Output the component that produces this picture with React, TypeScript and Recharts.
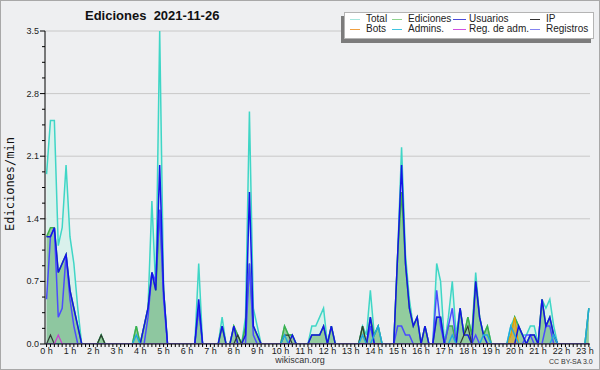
import { Area, CartesianGrid, ComposedChart, Line, XAxis, YAxis } from "recharts";

// 10-minute bins from 00:00, values in edits per minute
const TOTAL = [
  1.9, 2.5, 2.5, 1.1, 1.3, 2.0, 1.2, 0.9, 0.4, 0,
  0, 0, 0, 0, 0.1, 0, 0, 0, 0, 0,
  0, 0, 0, 0.2, 0, 0.2, 0.4, 1.6, 0.6, 3.5,
  0.6, 0, 0, 0, 0, 0, 0, 0, 0, 0.9,
  0, 0, 0, 0, 0, 0.3, 0, 0, 0.2, 0.1,
  0, 0.3, 2.6, 0.4, 0.2, 0, 0, 0, 0, 0,
  0, 0.2, 0.1, 0.1, 0, 0, 0, 0, 0.2, 0.2,
  0.3, 0.4, 0, 0.2, 0, 0, 0, 0, 0, 0,
  0, 0.2, 0.1, 0.6, 0.1, 0.2, 0, 0, 0, 0,
  1.0, 2.2, 1.0, 0.5, 0.2, 0.3, 0, 0.2, 0, 0,
  0.9, 0.7, 0, 0.3, 0.7, 0.1, 0.4, 0.1, 0.3, 0.1,
  0.8, 0.3, 0.1, 0.2, 0, 0, 0, 0, 0, 0.2,
  0.3, 0.2, 0.1, 0.1, 0.2, 0.2, 0, 0.5, 0.4, 0.5,
  0.2, 0, 0, 0, 0, 0, 0, 0, 0, 0.4,
];

const EDICIONES = [
  1.2, 1.3, 1.3, 0.8, 0.9, 1.0, 0.6, 0.4, 0.2, 0,
  0, 0, 0, 0, 0.1, 0, 0, 0, 0, 0,
  0, 0, 0, 0.2, 0, 0.2, 0.4, 0.8, 0.6, 1.5,
  0.6, 0, 0, 0, 0, 0, 0, 0, 0, 0.4,
  0, 0, 0, 0, 0, 0.2, 0, 0, 0.2, 0.1,
  0, 0.2, 0.9, 0.2, 0.1, 0, 0, 0, 0, 0,
  0, 0.2, 0.1, 0.1, 0, 0, 0, 0, 0.1, 0.1,
  0.1, 0.2, 0, 0.2, 0, 0, 0, 0, 0, 0,
  0, 0.2, 0, 0.3, 0.1, 0.2, 0, 0, 0, 0,
  1.0, 1.7, 0.9, 0.4, 0.2, 0.3, 0, 0.2, 0, 0,
  0.3, 0.3, 0, 0.2, 0.2, 0, 0.4, 0.1, 0.3, 0.1,
  0.7, 0.3, 0.1, 0.2, 0, 0, 0, 0, 0, 0.1,
  0.3, 0.2, 0.1, 0, 0.1, 0.1, 0, 0.5, 0.2, 0.3,
  0.1, 0, 0, 0, 0, 0, 0, 0, 0, 0.4,
];

const USUARIOS = [
  1.2, 1.2, 1.3, 0.8, 0.9, 1.0, 0.6, 0.4, 0.2, 0,
  0, 0, 0, 0, 0, 0, 0, 0, 0, 0,
  0, 0, 0, 0, 0, 0.2, 0.4, 0.8, 0.6, 2.0,
  0.6, 0, 0, 0, 0, 0, 0, 0, 0, 0.5,
  0, 0, 0, 0, 0, 0.2, 0, 0, 0.2, 0,
  0, 0.1, 1.7, 0.2, 0.1, 0, 0, 0, 0, 0,
  0, 0, 0, 0.1, 0, 0, 0, 0, 0.1, 0.1,
  0.1, 0.2, 0, 0.2, 0, 0, 0, 0, 0, 0,
  0, 0, 0, 0.3, 0, 0, 0, 0, 0, 0,
  1.0, 2.0, 0.9, 0.4, 0.2, 0.3, 0, 0.2, 0, 0,
  0.3, 0.3, 0, 0, 0, 0, 0.4, 0.1, 0.1, 0,
  0.7, 0.3, 0.1, 0, 0, 0, 0, 0, 0, 0,
  0, 0.2, 0.1, 0, 0.1, 0.1, 0, 0.5, 0.2, 0.3,
  0.1, 0, 0, 0, 0, 0, 0, 0, 0, 0,
];

const REGISTROS = [
  0.5, 1.2, 1.3, 0.3, 0.4, 1.0, 0.5, 0.2, 0, 0,
  0, 0, 0, 0, 0, 0, 0, 0, 0, 0,
  0, 0, 0, 0, 0, 0, 0.3, 0.8, 0.7, 1.5,
  0.5, 0, 0, 0, 0, 0, 0, 0, 0, 0.4,
  0, 0, 0, 0, 0, 0, 0, 0, 0, 0,
  0, 0, 0.9, 0.1, 0, 0, 0, 0, 0, 0,
  0, 0, 0, 0, 0, 0, 0, 0, 0, 0,
  0, 0, 0, 0, 0, 0, 0, 0, 0, 0,
  0, 0, 0, 0.2, 0, 0, 0, 0, 0, 0,
  0.2, 0.2, 0.1, 0.1, 0, 0, 0, 0, 0, 0,
  0.6, 0.2, 0, 0.2, 0.4, 0, 0, 0, 0, 0,
  0.1, 0, 0, 0, 0, 0, 0, 0, 0, 0,
  0, 0, 0, 0.1, 0.1, 0, 0, 0, 0.2, 0.2,
  0, 0, 0, 0, 0, 0, 0, 0, 0, 0,
];

const IP = [
  0, 0.1, 0, 0, 0, 0, 0, 0, 0, 0,
  0, 0, 0, 0, 0.1, 0, 0, 0, 0, 0,
  0, 0, 0, 0, 0, 0, 0, 0, 0, 0,
  0, 0, 0, 0, 0, 0, 0, 0, 0, 0,
  0, 0, 0, 0, 0, 0, 0, 0, 0, 0.1,
  0, 0, 0, 0, 0, 0, 0, 0, 0, 0,
  0, 0.1, 0.1, 0, 0, 0, 0, 0, 0, 0,
  0, 0, 0, 0, 0, 0, 0, 0, 0, 0,
  0, 0.2, 0, 0, 0, 0, 0, 0, 0, 0,
  0, 0, 0, 0, 0, 0, 0, 0, 0, 0,
  0, 0, 0, 0, 0, 0, 0, 0.1, 0.2, 0,
  0, 0, 0, 0, 0, 0, 0, 0, 0, 0,
  0, 0, 0, 0, 0, 0, 0, 0, 0, 0,
  0, 0, 0, 0, 0, 0, 0, 0, 0, 0,
];

const BOTS = [
  0, 0, 0, 0, 0, 0, 0, 0, 0, 0,
  0, 0, 0, 0, 0, 0, 0, 0, 0, 0,
  0, 0, 0, 0, 0, 0, 0, 0, 0, 0,
  0, 0, 0, 0, 0, 0, 0, 0, 0, 0,
  0, 0, 0, 0, 0, 0, 0, 0, 0, 0,
  0, 0, 0, 0, 0, 0, 0, 0, 0, 0,
  0, 0, 0, 0, 0, 0, 0, 0, 0, 0,
  0, 0, 0, 0, 0, 0, 0, 0, 0, 0,
  0, 0, 0, 0, 0, 0, 0, 0, 0, 0,
  0, 0, 0, 0, 0, 0, 0, 0, 0, 0,
  0, 0, 0, 0, 0, 0, 0, 0, 0, 0,
  0, 0, 0, 0, 0, 0, 0, 0, 0, 0.1,
  0.3, 0, 0, 0, 0, 0, 0, 0, 0, 0,
  0, 0, 0, 0, 0, 0, 0, 0, 0, 0,
];

const ADMINS = [
  0, 0, 0, 0, 0, 0, 0, 0, 0, 0,
  0, 0, 0, 0, 0, 0, 0, 0, 0, 0,
  0, 0, 0, 0.1, 0, 0, 0, 0, 0, 0,
  0, 0, 0, 0, 0, 0, 0, 0, 0, 0,
  0, 0, 0, 0, 0, 0, 0, 0, 0, 0,
  0, 0, 0, 0, 0, 0, 0, 0, 0, 0,
  0, 0.1, 0, 0, 0, 0, 0, 0, 0, 0,
  0, 0, 0, 0, 0, 0, 0, 0, 0, 0,
  0, 0.1, 0, 0, 0.1, 0.2, 0, 0, 0, 0,
  0, 0, 0, 0, 0, 0, 0, 0, 0, 0,
  0, 0, 0, 0, 0.1, 0, 0, 0, 0, 0,
  0, 0, 0.1, 0.1, 0, 0, 0, 0, 0, 0.2,
  0.1, 0, 0, 0, 0, 0, 0, 0, 0, 0,
  0.1, 0, 0, 0, 0, 0, 0, 0, 0, 0.4,
];

const REG_ADM = [
  0, 0, 0, 0.1, 0, 0, 0, 0, 0, 0,
  0, 0, 0, 0, 0, 0, 0, 0, 0, 0,
  0, 0, 0, 0, 0, 0, 0, 0, 0, 0,
  0, 0, 0, 0, 0, 0, 0, 0, 0, 0,
  0, 0, 0, 0, 0, 0, 0, 0, 0, 0,
  0, 0, 0, 0, 0, 0, 0, 0, 0, 0,
  0, 0, 0, 0, 0, 0, 0, 0, 0, 0,
  0, 0, 0, 0, 0, 0, 0, 0, 0, 0,
  0, 0, 0, 0, 0, 0, 0, 0, 0, 0,
  0, 0, 0, 0, 0, 0, 0, 0, 0, 0,
  0, 0, 0, 0, 0, 0, 0, 0, 0, 0,
  0, 0, 0, 0, 0, 0, 0, 0, 0, 0,
  0, 0, 0, 0, 0, 0, 0, 0, 0, 0,
  0, 0, 0, 0, 0, 0, 0, 0, 0, 0,
];

const HOUR_LABELS = [
  "0 h", "1 h", "2 h", "3 h", "4 h", "5 h", "6 h", "7 h", "8 h", "9 h", "10 h", "11 h",
  "12 h", "13 h", "14 h", "15 h", "16 h", "17 h", "18 h", "19 h", "20 h", "21 h", "22 h", "23 h",
];
const Y_LABELS = ["0.0", "0.7", "1.4", "2.1", "2.8", "3.5"];
const GRID_VALUES = [0.7, 1.4, 2.1, 2.8, 3.5];

const BIN_MIN = 10;
const Y_STEP = 0.175;
const X_TICKS = Array.from({ length: 140 }, (_, i) => i * BIN_MIN);
const Y_TICKS = Array.from({ length: 21 }, (_, k) => k * Y_STEP);

const data = TOTAL.map((v, i) => ({
  t: i * BIN_MIN,
  total: v,
  ediciones: EDICIONES[i],
  usuarios: USUARIOS[i],
  registros: REGISTROS[i],
  ip: IP[i],
  bots: BOTS[i],
  admins: ADMINS[i],
  regAdm: REG_ADM[i],
}));

const LEGEND = [
  { label: "Total", color: "#a6e6de", x: 350, row: 0 },
  { label: "Ediciones", color: "#8fd48f", x: 392, row: 0 },
  { label: "Usuarios", color: "#4a4ad8", x: 453, row: 0 },
  { label: "IP", color: "#333333", x: 530, row: 0 },
  { label: "Bots", color: "#f0a040", x: 350, row: 1 },
  { label: "Admins.", color: "#40c4e0", x: 392, row: 1 },
  { label: "Reg. de adm.", color: "#d050e0", x: 453, row: 1 },
  { label: "Registros", color: "#8484f0", x: 530, row: 1 },
];

const FONT = "'Liberation Sans', Arial, sans-serif";

function XTick({ x, y, payload }: any) {
  const m = payload.value as number;
  return (
    <g>
      <line x1={x} y1={y} x2={x} y2={y + 3} stroke="#000" />
      {m % 60 === 0 && (
        <text x={x} y={y + 10} textAnchor="middle" fontSize={9} fontFamily={FONT} fill="#222">
          {HOUR_LABELS[m / 60]}
        </text>
      )}
    </g>
  );
}

function YTick({ x, y, payload }: any) {
  const k = Math.round(payload.value / Y_STEP);
  const major = k % 4 === 0;
  return (
    <g>
      <line x1={x - (major ? 5 : 3)} y1={y} x2={x} y2={y} stroke="#000" />
      {major && (
        <text x={x - 6} y={y + 3} textAnchor="end" fontSize={9} fontFamily={FONT} fill="#222">
          {Y_LABELS[k / 4]}
        </text>
      )}
    </g>
  );
}

export default function App() {
  return (
    <div style={{ position: "relative", width: 600, height: 370, background: "#eeeff1", fontFamily: FONT }}>
      <style>{"body{margin:0}"}</style>
      <ComposedChart width={600} height={370} data={data} margin={{ top: 31, right: 10, bottom: 0, left: 5 }}>
        <CartesianGrid vertical={false} horizontalValues={GRID_VALUES} stroke="#c8c8c8" />
        <Area type="linear" dataKey="total" stroke="#3fd6c6" strokeWidth={1.5} fill="#d9f1ec" fillOpacity={1} dot={false} isAnimationActive={false} />
        <Area type="linear" dataKey="ediciones" stroke="#3fb04a" strokeWidth={1.5} fill="#92cc9e" fillOpacity={1} dot={false} isAnimationActive={false} />
        <Area type="linear" dataKey="registros" stroke="#4b4bff" strokeWidth={1.5} fill="#5a7ad0" fillOpacity={0.06} dot={false} isAnimationActive={false} />
        <Line type="linear" dataKey="usuarios" stroke="#1414e6" strokeWidth={1.5} dot={false} isAnimationActive={false} />
        <Line type="linear" dataKey="ip" stroke="#2f3b33" strokeWidth={1.2} dot={false} isAnimationActive={false} />
        <Area type="linear" dataKey="bots" stroke="#f0a000" strokeWidth={1.2} fill="#f0a020" fillOpacity={0.6} dot={false} isAnimationActive={false} />
        <Line type="linear" dataKey="admins" stroke="#20a8e0" strokeWidth={1.5} dot={false} isAnimationActive={false} />
        <Line type="linear" dataKey="regAdm" stroke="#c840d0" strokeWidth={1.2} dot={false} isAnimationActive={false} />
        <XAxis
          type="number"
          dataKey="t"
          domain={[-4, 1393]}
          allowDataOverflow
          ticks={X_TICKS}
          interval={0}
          height={26}
          tickLine={false}
          tickSize={0}
          tickMargin={0}
          axisLine={{ stroke: "#000" }}
          tick={<XTick />}
        />
        <YAxis
          type="number"
          domain={[0, 3.5]}
          allowDataOverflow
          ticks={Y_TICKS}
          interval={0}
          width={40}
          tickLine={false}
          tickSize={0}
          tickMargin={0}
          axisLine={{ stroke: "#000" }}
          tick={<YTick />}
        />
      </ComposedChart>

      <div style={{ position: "absolute", left: 85, top: 8, fontSize: 13, fontWeight: "bold", whiteSpace: "pre", color: "#111" }}>
        {"Ediciones  2021-11-26"}
      </div>

      <div
        style={{
          position: "absolute",
          left: 10,
          top: 184,
          transform: "translate(-50%, -50%) rotate(-90deg)",
          fontFamily: "'DejaVu Sans Mono', monospace",
          fontSize: 12,
          whiteSpace: "nowrap",
          color: "#111",
        }}
      >
        Ediciones/min
      </div>

      <div
        style={{
          position: "absolute",
          left: 344,
          top: 12,
          width: 248,
          height: 25,
          background: "#fff",
          border: "1px solid #b4b4b4",
          boxShadow: "-3px 4px 0 #7c7c7c",
        }}
      />
      {LEGEND.map((it) => (
        <div
          key={it.label}
          style={{
            position: "absolute",
            left: it.x,
            top: it.row === 0 ? 14 : 24,
            height: 10,
            lineHeight: "10px",
            display: "flex",
            alignItems: "center",
          }}
        >
          <span style={{ display: "inline-block", width: it.x === 453 ? 13 : 10, height: 1, background: it.color }} />
          <span style={{ marginLeft: it.x === 453 ? 3 : 6, fontSize: 10, color: "#222", whiteSpace: "nowrap" }}>{it.label}</span>
        </div>
      ))}

      <div style={{ position: "absolute", left: 300, top: 355, transform: "translateX(-50%)", fontSize: 9, color: "#333" }}>wikiscan.org</div>
      <div style={{ position: "absolute", left: 549, top: 358, fontSize: 7, color: "#333", whiteSpace: "nowrap" }}>CC BY-SA 3.0</div>
      <div style={{ position: "absolute", inset: 0, border: "1px solid #a8a8a8", pointerEvents: "none" }} />
    </div>
  );
}
